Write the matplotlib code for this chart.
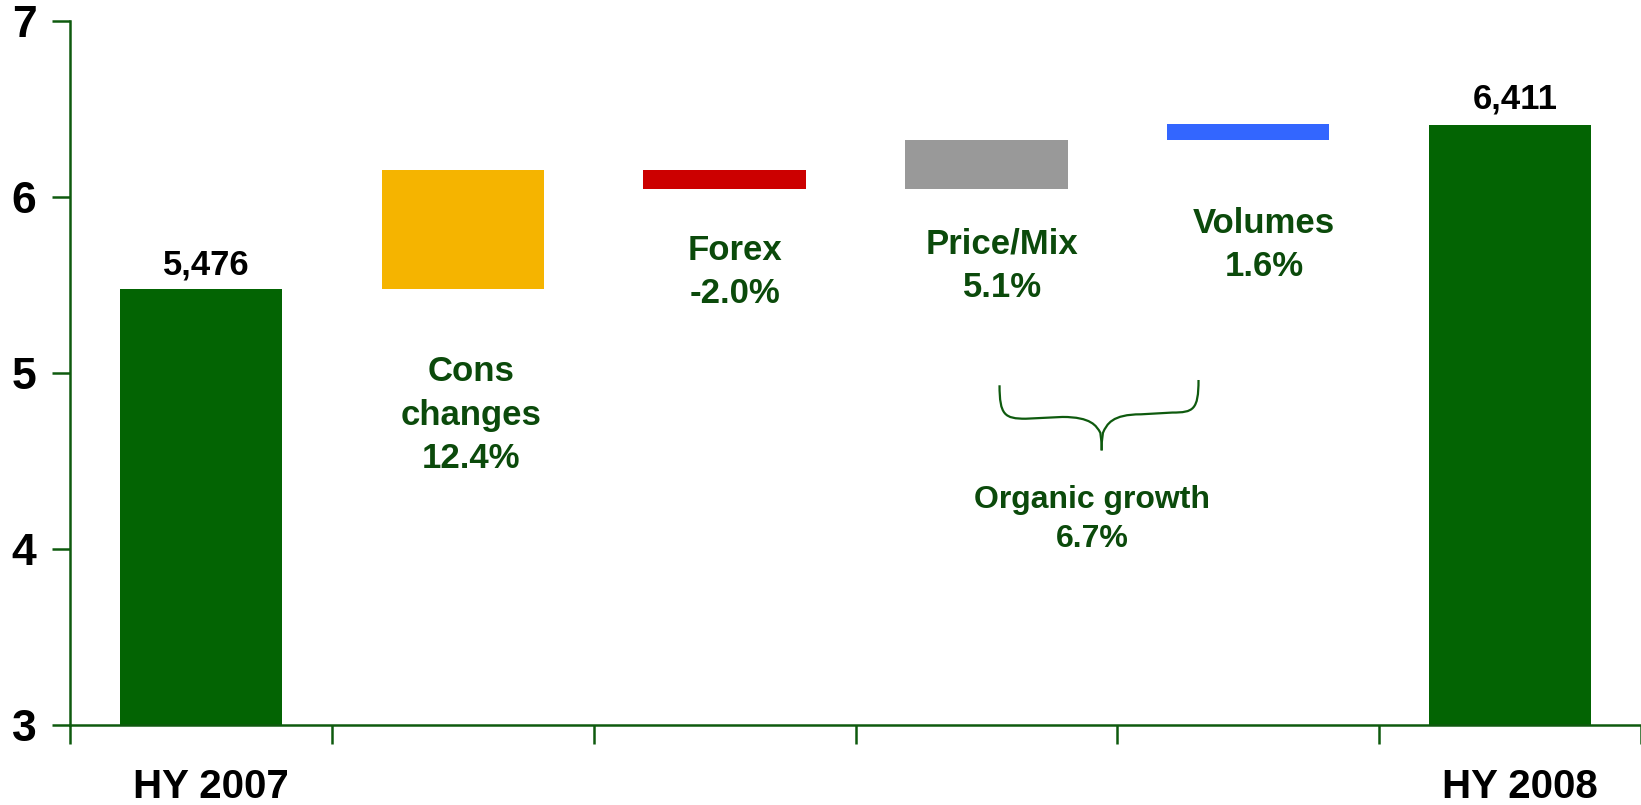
import matplotlib.pyplot as plt
from matplotlib.path import Path
from matplotlib.patches import PathPatch
from matplotlib.transforms import ScaledTranslation

# sales bridge, EUR bn
categories = ["HY 2007", "Cons changes", "Forex", "Price/Mix", "Volumes", "HY 2008"]
start_value = 5.476
deltas = [0.679, -0.110, 0.279, 0.088]
end_value = 6.411
start_label = "5,476"
end_label = "6,411"
delta_labels = ["Cons\nchanges\n12.4%", "Forex\n-2.0%", "Price/Mix\n5.1%", "Volumes\n1.6%"]
organic_label = "Organic growth\n6.7%"
x_tick_labels = ["HY 2007", "", "", "", "", "HY 2008"]
y_ticks = [3, 4, 5, 6, 7]

GREEN = "#036403"
TEXT_GREEN = "#0b4a0b"
AXIS_GREEN = "#0e5a0e"
delta_colors = ["#f5b400", "#cc0000", "#999999", "#3366ff"]

plt.rcParams["font.family"] = ["Liberation Sans", "DejaVu Sans"]
plt.rcParams["font.weight"] = "bold"

fig = plt.figure(figsize=(16.41, 8.05), dpi=100)
ax = fig.add_axes([0.0427, 0.0994, 0.9573, 0.8746])

width = 0.62
ax.bar(0, start_value - 3, bottom=3, width=width, color=GREEN)
ax.bar(5, end_value - 3, bottom=3, width=width, color=GREEN)

level = start_value
for i, (d, c) in enumerate(zip(deltas, delta_colors), start=1):
    ax.bar(i, abs(d), bottom=min(level, level + d), width=width, color=c)
    level += d

ax.text(0.02, start_value + 0.045, start_label, ha="center", va="bottom",
        fontsize=25, color="black")
ax.text(5.02, end_value + 0.05, end_label, ha="center", va="bottom",
        fontsize=25, color="black")

label_pos = [(1.03, 5.10), (2.04, 5.79), (3.06, 5.825), (4.06, 5.945)]
for (x, y), txt in zip(label_pos, delta_labels):
    ax.text(x, y, txt, ha="center", va="top", fontsize=25,
            color=TEXT_GREEN, linespacing=1.4)

# curly brace grouping price/mix and volumes
xl, xm, xr = 3.05, 3.44, 3.81
yt, yh, ytip = 4.93, 4.74, 4.56
verts = [
    (xl, yt), (xl, yh + 0.02), (xl + 0.02, yh), (xl + 0.1, yh),
    (xm - 0.15, yh + 0.01), (xm - 0.04, yh + 0.01), (xm - 0.02, yh - 0.04),
    (xm - 0.005, yh - 0.08), (xm, ytip + 0.04), (xm, ytip),
]
codes = [Path.MOVETO, Path.CURVE4, Path.CURVE4, Path.CURVE4,
         Path.LINETO, Path.CURVE4, Path.CURVE4, Path.CURVE4, Path.LINETO, Path.LINETO]
verts_r = [
    (xr, yt + 0.03), (xr, yh + 0.05), (xr - 0.02, yh + 0.035), (xr - 0.1, yh + 0.035),
    (xm + 0.15, yh + 0.025), (xm + 0.04, yh + 0.025), (xm + 0.02, yh - 0.03),
    (xm + 0.005, yh - 0.08), (xm, ytip + 0.04), (xm, ytip),
]
for v in (verts, verts_r):
    ax.add_patch(PathPatch(Path(v, codes), fill=False, edgecolor=AXIS_GREEN, lw=1.6))

ax.text(xm - 0.035, 4.365, organic_label, ha="center", va="top", fontsize=23,
        color=TEXT_GREEN, linespacing=1.4)

ax.set_xlim(-0.5, 5.5)
ax.set_ylim(3, 7)
ax.set_yticks(y_ticks)
ax.set_yticklabels([str(t) for t in y_ticks], fontsize=32)
ax.set_xticks([i + 0.5 for i in range(-1, 6)], minor=False)
ax.set_xticklabels([""] * 7)
ax.set_xticks(range(6), minor=True)
ax.set_xticklabels(x_tick_labels, minor=True, fontsize=29)
ax.tick_params(axis="x", which="minor", length=0, pad=31)
ax.tick_params(axis="x", which="major", length=14, width=1.8, color=AXIS_GREEN)
ax.tick_params(axis="y", length=13, width=1.8, color=AXIS_GREEN, pad=20)
for lbl in ax.get_yticklabels():
    lbl.set_horizontalalignment("center")
shift = ScaledTranslation(10 / 100, 0, fig.dpi_scale_trans)
for lbl in ax.get_xticklabels(minor=True):
    lbl.set_transform(lbl.get_transform() + shift)

for s in ("top", "right"):
    ax.spines[s].set_visible(False)
for s in ("left", "bottom"):
    ax.spines[s].set_color(AXIS_GREEN)
    ax.spines[s].set_linewidth(1.8)

fig.savefig("out.png", dpi=100)
